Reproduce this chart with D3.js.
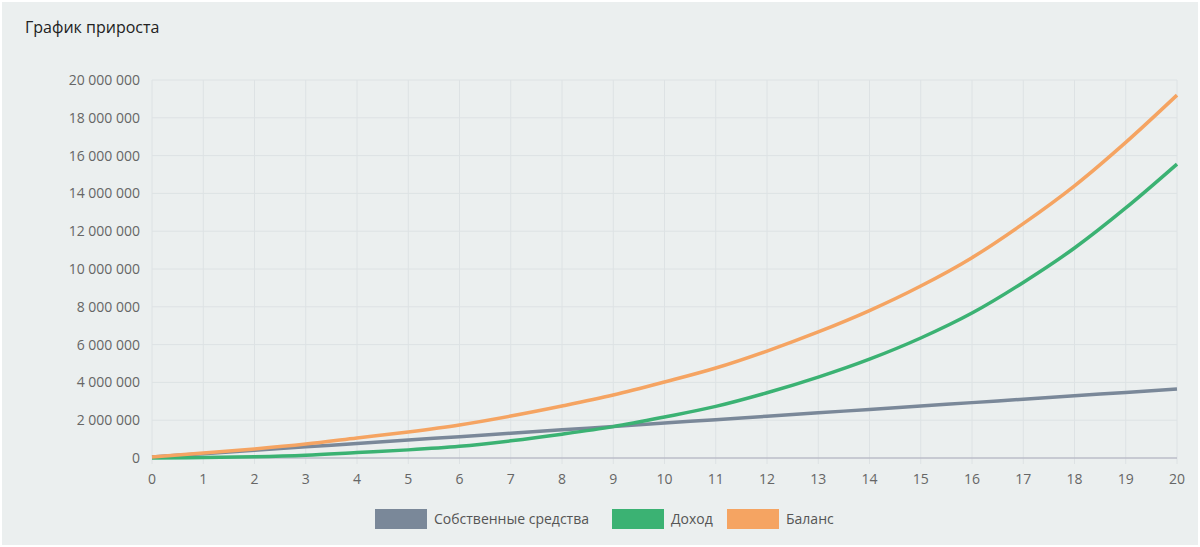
<!DOCTYPE html>
<html><head><meta charset="utf-8">
<script src="https://cdn.jsdelivr.net/npm/d3@7"></script>
<style>body{margin:0;background:#fff;font-family:"Open Sans","Noto Sans",sans-serif}</style>
</head><body><svg id="c" width="1200" height="547"></svg>
<script>
const years = d3.range(0,21);
const own = [50000,230000,410000,590000,770000,950000,1130000,1310000,1490000,1670000,1850000,2030000,2210000,2390000,2570000,2750000,2930000,3110000,3290000,3470000,3650000];
const income = [0,30000,70000,150000,290000,430000,620000,910000,1260000,1660000,2170000,2730000,3450000,4280000,5230000,6350000,7670000,9290000,11110000,13230000,15550000];
const balance = own.map((v,i)=>v+income[i]);
const yTicks = d3.range(0,20000001,2000000);
const seriesNames = ["Собственные средства","Доход","Баланс"];
const colors = ["#7a8899","#3bb273","#f5a462"];

const svg = d3.select("#c");
svg.append("rect").attr("x",2).attr("y",2).attr("width",1196).attr("height",543).attr("fill","#ebefef");
svg.append("text").attr("x",25).attr("y",33).attr("font-size",16).attr("fill","#222").text("График прироста");
const x = d3.scaleLinear().domain([0,20]).range([152,1177]);
const y = d3.scaleLinear().domain([0,20000000]).range([458,80]);
const fmt = v => d3.format(",")(v).replace(/,/g," ");
const gy = svg.append("g");
yTicks.forEach(t=>{
  gy.append("line").attr("x1",152).attr("x2",1177).attr("y1",y(t)).attr("y2",y(t)).attr("stroke","#dde2e4");
  gy.append("text").attr("x",140).attr("y",y(t)+5).attr("text-anchor","end").attr("font-size",14).attr("fill","#666").text(fmt(t));
});
years.forEach(t=>{
  gy.append("line").attr("x1",x(t)).attr("x2",x(t)).attr("y1",80).attr("y2",464).attr("stroke","#dde2e4");
  gy.append("text").attr("x",x(t)).attr("y",484).attr("text-anchor","middle").attr("font-size",14).attr("fill","#666").text(t);
});
svg.append("line").attr("x1",152).attr("x2",1177).attr("y1",458).attr("y2",458).attr("stroke","#aab");
const line = d3.line().x((d,i)=>x(years[i])).y(d=>y(d)).curve(d3.curveMonotoneX);
[own,income,balance].forEach((s,i)=>{
  svg.append("path").attr("d",line(s)).attr("fill","none").attr("stroke",colors[i]).attr("stroke-width",3.5);
});
const lx=[375,612,727];
seriesNames.forEach((n,i)=>{
  svg.append("rect").attr("x",lx[i]).attr("y",509).attr("width",52).attr("height",20).attr("fill",colors[i]);
  svg.append("text").attr("x",lx[i]+59).attr("y",524).attr("font-size",14).attr("fill","#555").text(n);
});
</script></body></html>
